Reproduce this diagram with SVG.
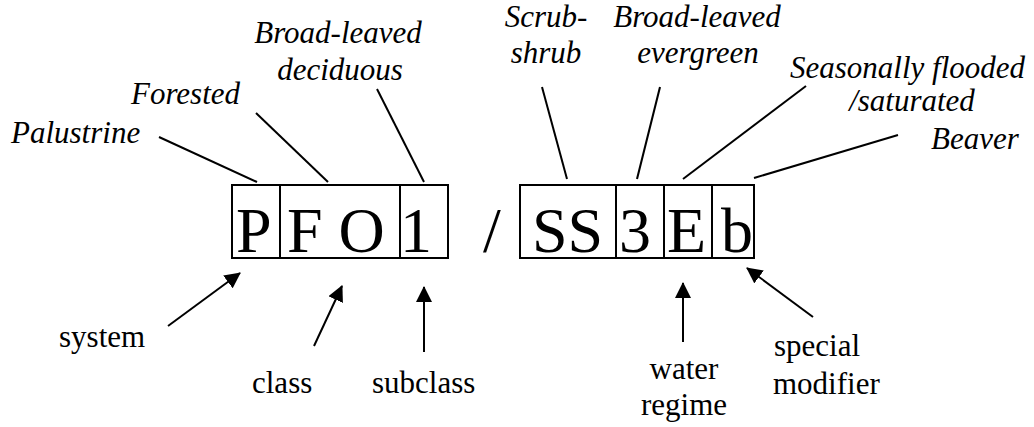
<svg xmlns="http://www.w3.org/2000/svg" width="1034" height="427" viewBox="0 0 1034 427">
<defs>
<style>
.cell{fill:#fff;stroke:#000;stroke-width:2}
.code{font-size:64px;fill:#000}
.it{font-size:31px;font-style:italic;fill:#000}
.rg{font-size:31px;fill:#000}
.ln{stroke:#000;stroke-width:2;fill:none}
.ar{stroke:#000;stroke-width:2;fill:none;marker-end:url(#ah)}
</style>
<marker id="ah" viewBox="0 0 16 16" refX="15" refY="8" markerWidth="16" markerHeight="16" markerUnits="userSpaceOnUse" orient="auto">
<path d="M0,0 L16,8 L0,16 z" fill="#000"/>
</marker>
</defs>
<rect width="1034" height="427" fill="#fff"/>
<g font-family="'Liberation Serif', 'Times New Roman', serif">
<g id="code-left">
<g id="cell-P"><rect class="cell" x="232" y="185" width="48" height="73"/><text class="code" x="236" y="252">P</text></g>
<g id="cell-FO"><rect class="cell" x="280" y="185" width="120" height="73"/><text class="code" x="287" y="252">F O</text></g>
<g id="cell-1"><rect class="cell" x="400" y="185" width="48" height="73"/><text class="code" x="400" y="252">1</text></g>
</g>
<g id="slash"><text class="code" x="483" y="252">/</text></g>
<g id="code-right">
<g id="cell-SS"><rect class="cell" x="520" y="185" width="96" height="73"/><text class="code" x="532" y="252">SS</text></g>
<g id="cell-3"><rect class="cell" x="616" y="185" width="48" height="73"/><text class="code" x="619" y="252">3</text></g>
<g id="cell-E"><rect class="cell" x="664" y="185" width="48" height="73"/><text class="code" x="667" y="252">E</text></g>
<g id="cell-b"><rect class="cell" x="712" y="185" width="42" height="73"/><text class="code" x="721" y="252">b</text></g>
</g>
<g id="lbl-palustrine"><text class="it" x="11" y="143">Palustrine</text></g>
<g id="lbl-forested"><text class="it" x="131" y="104">Forested</text></g>
<g id="lbl-bld"><text class="it" x="338" y="43" text-anchor="middle">Broad-leaved</text><text class="it" x="340" y="80" text-anchor="middle">deciduous</text></g>
<g id="lbl-scrub"><text class="it" x="546" y="27" text-anchor="middle">Scrub-</text><text class="it" x="546" y="63" text-anchor="middle">shrub</text></g>
<g id="lbl-ble"><text class="it" x="697" y="27" text-anchor="middle">Broad-leaved</text><text class="it" x="698" y="63" text-anchor="middle">evergreen</text></g>
<g id="lbl-seasonal"><text class="it" x="790" y="78">Seasonally flooded</text><text class="it" x="912" y="111" text-anchor="middle">/saturated</text></g>
<g id="lbl-beaver"><text class="it" x="931" y="149">Beaver</text></g>
<g id="lbl-system"><text class="rg" x="59" y="347">system</text></g>
<g id="lbl-class"><text class="rg" x="252" y="393">class</text></g>
<g id="lbl-subclass"><text class="rg" x="372" y="393">subclass</text></g>
<g id="lbl-water"><text class="rg" x="684" y="379" text-anchor="middle">water</text><text class="rg" x="684" y="415" text-anchor="middle">regime</text></g>
<g id="lbl-special"><text class="rg" x="774" y="356">special</text><text class="rg" x="773" y="394">modifier</text></g>
</g>
<g id="connectors">
<line class="ln" x1="159" y1="137" x2="257" y2="182"/>
<line class="ln" x1="256" y1="113" x2="328" y2="182"/>
<line class="ln" x1="377" y1="89" x2="424" y2="182"/>
<line class="ln" x1="542" y1="87" x2="567" y2="179"/>
<line class="ln" x1="660" y1="87" x2="637" y2="179"/>
<line class="ln" x1="806" y1="86" x2="683" y2="179"/>
<line class="ln" x1="898" y1="135" x2="754" y2="178"/>
<line class="ar" x1="168" y1="326" x2="240" y2="273"/>
<line class="ar" x1="314" y1="346" x2="342" y2="286"/>
<line class="ar" x1="424" y1="352" x2="424" y2="287"/>
<line class="ar" x1="683" y1="342" x2="683" y2="283"/>
<line class="ar" x1="813" y1="317" x2="747" y2="268"/>
</g>
</svg>
